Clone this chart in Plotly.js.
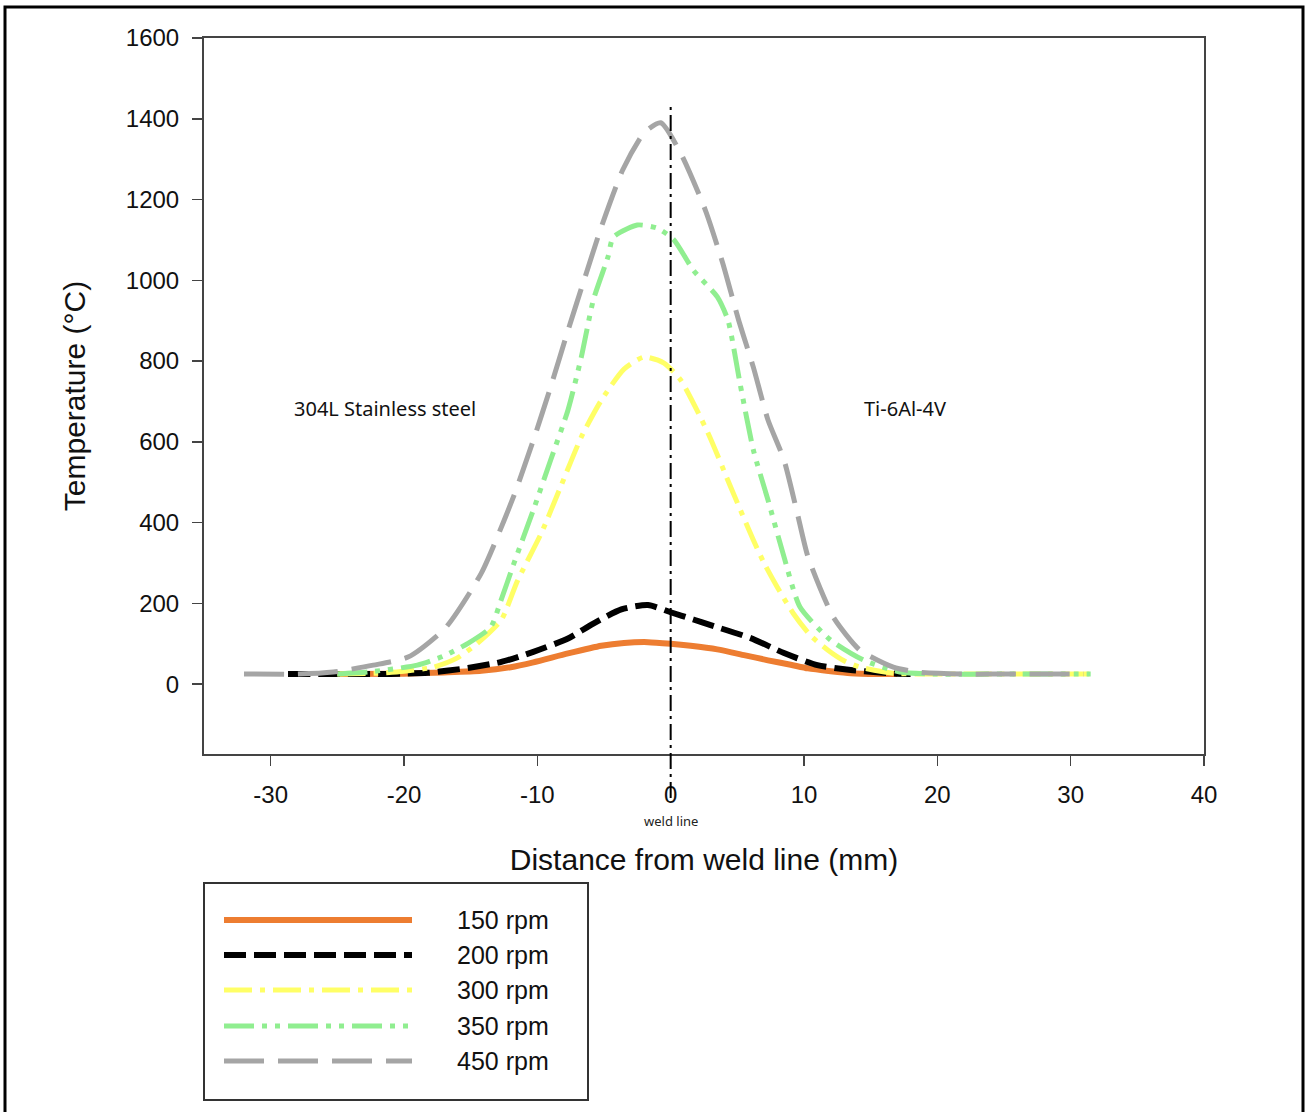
<!DOCTYPE html>
<html>
<head>
<meta charset="utf-8">
<script src="https://cdn.plot.ly/plotly-3.0.1.min.js"></script>
<style>html,body{margin:0;padding:0;background:#fff;}#chart{width:1306px;height:1112px;}</style>
</head>
<body>
<div id="chart"></div>
<script>
// ---- data ----
const seriesNames = ["150 rpm", "200 rpm", "300 rpm", "350 rpm", "450 rpm"];

const x150 = [-25, -20, -17, -14.2, -12, -10.3, -7.7, -5.2, -3.5, -1.7, 0, 1.5, 3.5, 5.5, 7.3, 9, 10.3, 12, 13.5, 15.5, 17];
const t150 = [25, 26, 29, 33, 42, 54, 76, 95, 102, 104, 100, 95, 86, 72, 59, 48, 39, 32, 27, 25, 25];

const x200 = [-28.7, -25, -22, -20, -18.2, -15.2, -12.7, -10.3, -7.7, -5.8, -3.7, -1.7, 0, 1.7, 3, 6, 8.5, 11, 13.5, 16.5, 18];
const t200 = [25, 25, 25, 26, 28, 40, 55, 80, 113, 150, 185, 196, 178, 160, 146, 114, 77, 47, 35, 27, 25];

const x300 = [-25, -22, -20, -17.8, -16, -14.5, -12.7, -11.5, -9.7, -8.2, -6.7, -5.2, -3.5, -2, -0.5, 0.75, 2.8, 4.5, 6.2, 7.0, 8.0, 9.2, 10.5, 11.8, 13, 14.2, 16.7, 19, 22, 25, 28, 31.7];
const t300 = [25, 27, 32, 42, 65, 101, 159, 255, 374, 493, 612, 703, 780, 810, 795, 753, 622, 488, 357, 300, 240, 175, 120, 84, 58, 42, 27, 25, 25, 25, 25, 25];

const x350 = [-25, -22.7, -19, -17, -15.2, -13.5, -12.7, -11.8, -10.3, -9.0, -7.7, -6.7, -5.8, -4.7, -4.3, -2.5, -1.0, 0.25, 1.7, 3.5, 4.3, 5.2, 6.2, 7.3, 8.5, 9.7, 12.0, 14.5, 17.2, 20, 25, 31.5];
const t350 = [25, 30, 47, 70, 101, 141, 210, 295, 431, 555, 679, 810, 951, 1058, 1107, 1137, 1129, 1100, 1025, 959, 901, 745, 580, 456, 315, 191, 109, 59, 30, 25, 25, 25];

const x450 = [-32, -28, -25.3, -22.3, -19.7, -16.9, -14.2, -11.8, -10.3, -9.0, -7.7, -6.5, -5.2, -3.6, -2.0, -0.75, 0.75, 2.6, 3.9, 5.1, 6.2, 7.3, 8.5, 9.5, 10.3, 12.2, 14.2, 16.7, 18.5, 22, 26, 31];
const t450 = [25, 25, 30, 47, 67, 139, 275, 463, 604, 736, 876, 1000, 1132, 1273, 1365, 1390, 1315, 1174, 1043, 901, 785, 654, 555, 423, 315, 166, 84, 42, 30, 25, 25, 25];

const xTicks = [-30, -20, -10, 0, 10, 20, 30, 40];
const yTicks = [0, 200, 400, 600, 800, 1000, 1200, 1400, 1600];
const regionLabels = ["304L Stainless steel", "Ti-6Al-4V"];
const regionX = [-21.4, 17.6];
const regionY = [683, 683];

// ---- styles ----
const colors = ["#ED7D31", "#000000", "#FFFF66", "#90EE90", "#A5A5A5"];
const dashes = ["solid", "22px,8px", "28px,8px,5px,8px", "30px,8px,5px,8px,5px,8px", "40px,14px"];
const widths = [6, 6, 5, 5, 5];

const xs = [x150, x200, x300, x350, x450];
const ts = [t150, t200, t300, t350, t450];

const traces = xs.map((x, i) => ({
  x: x, y: ts[i], type: "scatter", mode: "lines", name: seriesNames[i],
  line: {color: colors[i], width: widths[i], dash: dashes[i], shape: "spline", smoothing: 0.6},
  showlegend: false, hoverinfo: "skip"
}));

// paper coordinate helpers (margins l=204, r=102, t=38, b=12)
const W = 1000, H = 1062;
const px = v => (v - 204) / W;
const py = v => (1100 - v) / H;

const shapes = [
  // outer frame
  {type: "rect", xref: "paper", yref: "paper", x0: px(5), x1: px(1303), y0: py(1125), y1: py(7),
   line: {color: "#000", width: 3}, layer: "below"},
  // weld line
  {type: "line", xref: "x", yref: "paper", x0: 0, x1: 0, y0: py(798), y1: py(105),
   line: {color: "#000", width: 2, dash: "16px,5px,3px,5px"}, layer: "above"},
  // legend box
  {type: "rect", xref: "paper", yref: "paper", x0: px(204), x1: px(588), y0: py(1100), y1: py(883),
   line: {color: "#333", width: 2}}
];

const legendRows = [920, 955, 990, 1026, 1061];
const annotations = [];
seriesNames.forEach((n, i) => {
  shapes.push({type: "line", xref: "paper", yref: "paper", x0: px(224), x1: px(412),
    y0: py(legendRows[i]), y1: py(legendRows[i]),
    line: {color: colors[i], width: widths[i], dash: dashes[i]}});
  annotations.push({xref: "paper", yref: "paper", x: px(455), y: py(legendRows[i]), xanchor: "left", yanchor: "middle",
    text: n, showarrow: false, font: {family: "Liberation Sans, Arial", size: 25, color: "#111"}});
});
regionLabels.forEach((t, i) => {
  annotations.push({xref: "x", yref: "y", x: regionX[i], y: regionY[i], text: t, showarrow: false,
    font: {family: "Noto Sans, Open Sans", size: 20, color: "#111"}});
});
annotations.push({xref: "x", yref: "paper", x: 0, y: py(821), xanchor: "center", yanchor: "middle",
  text: "weld line", showarrow: false, borderpad: 0,
  font: {family: "Noto Sans, Open Sans", size: 13, color: "#222"}});

const axisCommon = {
  showgrid: false, zeroline: false, showline: true, linecolor: "#444", linewidth: 2, mirror: true,
  ticks: "outside", ticklen: 10, tickwidth: 1.5, tickcolor: "#444",
  tickfont: {family: "Liberation Sans, Arial", size: 24, color: "#111"}
};

const layout = {
  width: 1306, height: 1112,
  margin: {l: 204, r: 102, t: 38, b: 12},
  paper_bgcolor: "#fff", plot_bgcolor: "#fff",
  showlegend: false,
  xaxis: Object.assign({}, axisCommon, {
    range: [-35, 40], tickmode: "array", tickvals: xTicks, ticktext: xTicks.map(String),
    ticklabelstandoff: 8,
    title: {text: "Distance from weld line (mm)", standoff: 42, font: {family: "Liberation Sans, Arial", size: 30, color: "#111"}}
  }),
  yaxis: Object.assign({}, axisCommon, {
    range: [-173, 1600], domain: [py(754), 1], tickmode: "array", tickvals: yTicks, ticktext: yTicks.map(String),
    ticklabelstandoff: 8,
    title: {text: "Temperature (°C)", standoff: 31, font: {family: "Liberation Sans, Arial", size: 30, color: "#111"}}
  }),
  shapes: shapes,
  annotations: annotations
};

Plotly.newPlot("chart", traces, layout, {staticPlot: true, displayModeBar: false});
</script>
</body>
</html>
